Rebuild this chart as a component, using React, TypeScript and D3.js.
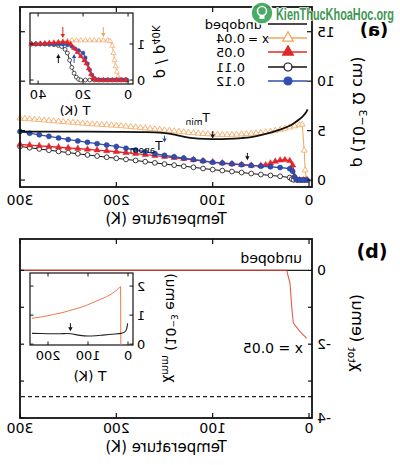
import React from 'react';
import * as d3 from 'd3';

const FONT = 'DejaVu Sans, Verdana, sans-serif';

// ---------- Panel (a): resistivity rho (10^-3 ohm cm) vs T (K) ----------
const tUndoped = [300, 250, 200, 170, 155, 145, 135, 125, 115, 100, 85, 70, 60, 50, 40, 30, 20, 15, 10, 6, 3, 1.5];
const rhoUndoped = [4.9, 4.9, 4.88, 4.85, 4.8, 4.7, 4.5, 4.3, 4.2, 4.15, 4.17, 4.25, 4.35, 4.55, 4.8, 5.1, 5.5, 5.8, 6.15, 6.5, 6.85, 7.15];

const tX004 = [300, 295, 290, 285, 280, 275, 270, 265, 260, 255, 250, 245, 240, 235, 230, 225, 220, 215, 210, 205,
  200, 195, 190, 185, 180, 175, 170, 165, 160, 155, 150, 145, 140, 135, 130, 125, 120, 115, 110, 105,
  100, 95, 90, 85, 80, 75, 70, 65, 60, 55, 50, 45, 40, 35, 30, 25, 20, 15, 10, 7, 5, 4, 3, 2];
const rhoX004 = [6.25, 6.21, 6.17, 6.13, 6.09, 6.05, 6.01, 5.97, 5.93, 5.89, 5.85, 5.81, 5.77, 5.73, 5.69, 5.66, 5.63, 5.6, 5.57, 5.54,
  5.51, 5.47, 5.43, 5.39, 5.35, 5.3, 5.25, 5.2, 5.15, 5.1, 5.05, 5.0, 4.95, 4.9, 4.85, 4.8, 4.76, 4.72, 4.68, 4.65,
  4.62, 4.6, 4.59, 4.59, 4.6, 4.62, 4.64, 4.67, 4.7, 4.74, 4.79, 4.85, 4.92, 5.0, 5.1, 5.22, 5.34, 5.46, 5.56, 5.62, 3.0, 1.0, 0.1, 0];

const tX005 = [300, 290, 280, 270, 260, 250, 240, 230, 220, 210, 200, 190, 180, 170, 160, 150, 140, 130, 120, 110,
  100, 90, 80, 70, 60, 50, 45, 40, 35, 30, 25, 20, 17, 15, 13, 10, 6, 2];
const rhoX005 = [3.6, 3.53, 3.46, 3.39, 3.32, 3.25, 3.18, 3.11, 3.03, 2.95, 2.87, 2.77, 2.67, 2.57, 2.47, 2.37, 2.26, 2.15, 2.04, 1.93,
  1.82, 1.72, 1.63, 1.55, 1.48, 1.45, 1.52, 1.7, 1.88, 2.0, 2.05, 1.95, 1.5, 0.4, 0.05, 0, 0, 0];

const tX011 = [300, 290, 280, 270, 260, 250, 240, 230, 220, 210, 200, 190, 180, 170, 160, 150, 140, 130, 120, 110,
  100, 90, 80, 70, 60, 50, 40, 30, 20, 18, 16, 12, 8, 4];
const rhoX011 = [3.4, 3.27, 3.15, 3.02, 2.9, 2.78, 2.66, 2.54, 2.43, 2.31, 2.2, 2.09, 1.98, 1.86, 1.74, 1.62, 1.51, 1.4, 1.29, 1.17,
  1.06, 0.96, 0.86, 0.76, 0.66, 0.56, 0.47, 0.38, 0.26, 0.1, 0.02, 0, 0, 0];

const tX012 = [300, 290, 280, 270, 260, 250, 240, 230, 220, 210, 200, 190, 180, 170, 160, 150, 140, 130, 120, 110,
  100, 90, 80, 70, 60, 50, 40, 30, 20, 17, 15, 13, 10, 6, 2];
const rhoX012 = [4.9, 4.74, 4.58, 4.42, 4.26, 4.1, 3.96, 3.82, 3.68, 3.54, 3.4, 3.22, 3.04, 2.86, 2.68, 2.5, 2.36, 2.22, 2.08, 1.94,
  1.8, 1.72, 1.64, 1.56, 1.48, 1.41, 1.34, 1.27, 1.15, 0.9, 0.3, 0.05, 0, 0, 0];

// ---------- Inset (a): rho / rho40K vs T ----------
const tInA004 = [43, 41, 39, 37, 35, 33, 31, 29, 27, 25, 23, 21, 19, 17, 15, 13, 11, 9, 8, 7, 6.5, 6, 5.5, 5, 4.5, 4, 3.5, 2.5, 1.5, 0.5];
const nInA004 = [1.0, 1.0, 1.0, 1.0, 1.01, 1.02, 1.04, 1.06, 1.08, 1.1, 1.1, 1.1, 1.1, 1.1, 1.1, 1.1, 1.1, 1.1, 1.08, 0.95, 0.75, 0.55, 0.38, 0.23, 0.1, 0.03, 0, 0, 0, 0];
const tInA005 = [43, 41, 39, 37, 35, 33, 31, 29, 27, 25.5, 24, 22.5, 21, 19.5, 18.5, 17.5, 16.5, 15.5, 14.5, 13, 11, 9, 7, 5, 3, 1];
const nInA005 = [1.0, 1.0, 1.01, 1.02, 1.03, 1.04, 1.05, 1.06, 1.05, 1.0, 0.88, 0.77, 0.66, 0.54, 0.46, 0.32, 0.16, 0.06, 0.01, 0, 0, 0, 0, 0, 0, 0];
const tInA011 = [43, 41, 39, 37, 35, 33, 31, 29.5, 28, 27, 26, 25, 24, 23, 22, 21, 19, 17, 15, 13, 11, 9, 7, 5, 3, 1];
const nInA011 = [1.0, 1.0, 1.0, 1.0, 0.99, 0.98, 0.96, 0.93, 0.85, 0.75, 0.55, 0.35, 0.19, 0.08, 0.02, 0, 0, 0, 0, 0, 0, 0, 0, 0, 0, 0];
const tInA012 = [43, 41, 39, 37, 35, 33, 31, 29, 27, 25, 23.5, 22, 20, 19, 18, 17, 16, 15, 14, 12, 10, 8, 6, 4, 2, 0.5];
const nInA012 = [1.0, 0.99, 1.0, 1.0, 1.0, 1.0, 1.0, 0.99, 0.97, 0.93, 0.87, 0.82, 0.75, 0.62, 0.45, 0.28, 0.14, 0.05, 0.01, 0, 0, 0, 0, 0, 0, 0];

// ---------- Panel (b): chi_tot (emu) vs T ----------
const tChiUndoped = [300, 0];
const chiUndoped = [0, 0];
const tChiX005 = [300, 23.2, 19.7, 18.0, 16.3, 9.3, 2.4];
const chiX005 = [0, 0, -0.35, -0.98, -1.43, -1.66, -1.84];
const chiDashed = -3.42;

// ---------- Inset (b): chi_mm (10^-3 emu) vs T ----------
const tInBX005 = [240, 220, 200, 186, 160, 140, 120, 103, 80, 54, 40, 30, 21, 18.5, 18];
const chiInBX005 = [0.89, 0.93, 0.98, 1.02, 1.1, 1.18, 1.26, 1.34, 1.48, 1.63, 1.74, 1.84, 1.96, 1.98, -0.03];
const tInBUndoped = [240, 200, 170, 144, 120, 100, 80, 63, 40, 17, 8, 4, 2, 1];
const chiInBUndoped = [0.37, 0.36, 0.36, 0.36, 0.3, 0.28, 0.29, 0.31, 0.34, 0.37, 0.42, 0.5, 0.62, 0.72];

// ticks
const tempTicks = [0, 100, 200, 300];
const rhoTicks = [0, 5, 10, 15];
const chiTicksMajor = [0, -2, -4];
const chiTicksAll = [0, -1, -2, -3, -4];
const insetATicksX = [0, 20, 40];
const insetATicksY = [0, 1];
const insetBTicksX = [0, 100, 200];
const insetBTicksY = [0, 1, 2];

const legendLabels = ['undoped', '0.04', '0.05', '0.11', '0.12'];

const C_OR = '#f2a45c';
const C_RED = '#e2262b';
const C_BLK = '#111111';
const C_BLUE = '#2f4fae';
const C_OR_B = '#ee7a4a';
const C_RED_B = '#d9412e';

type Sc = d3.ScaleLinear<number, number>;

function pts(t: number[], v: number[]): [number, number][] {
  return t.map((d, i) => [d, v[i]]);
}

function linePath(xs: Sc, ys: Sc, t: number[], v: number[], curve?: any) {
  const l = d3.line<[number, number]>().x(d => xs(d[0])).y(d => ys(d[1]));
  if (curve) l.curve(curve);
  return l(pts(t, v)) || '';
}

function Markers({ xs, ys, t, v, d, fill, stroke, sw = 0.8 }: any) {
  return (
    <g>
      {t.map((tt: number, i: number) => (
        <path key={i} d={d} transform={`translate(${xs(tt)},${ys(v[i])})`} fill={fill} stroke={stroke} strokeWidth={sw} />
      ))}
    </g>
  );
}

function Arrow({ x, y1, y2, color, w = 1 }: any) {
  const dir = y2 > y1 ? 1 : -1;
  return (
    <g>
      <line x1={x} x2={x} y1={y1} y2={y2 - dir * 2} stroke={color} strokeWidth={w} />
      <polygon points={`${x - 2.2},${y2 - dir * 4} ${x + 2.2},${y2 - dir * 4} ${x},${y2}`} fill={color} />
    </g>
  );
}

export default function App() {
  const xA = d3.scaleLinear().domain([-3.1, 300]).range([88, 380]);
  const yA = d3.scaleLinear().domain([-0.7, 17.5]).range([187, 7]);
  const xB = xA;
  const yB = d3.scaleLinear().domain([-4.0, 0.85]).range([418, 239]);
  const xIA = d3.scaleLinear().domain([-2.2, 43.6]).range([267, 370]);
  const yIA = d3.scaleLinear().domain([-0.11, 1.86]).range([84, 13]);
  const xIB = d3.scaleLinear().domain([-12.5, 245]).range([267, 370]);
  const yIB = d3.scaleLinear().domain([-0.03, 2.45]).range([345, 273]);

  const triS = d3.symbol().type(d3.symbolTriangle).size(15)() || '';
  const triM = d3.symbol().type(d3.symbolTriangle).size(17)() || '';
  const cirS = d3.symbol().type(d3.symbolCircle).size(18)() || '';
  const cirM = d3.symbol().type(d3.symbolCircle).size(20)() || '';
  const triI = d3.symbol().type(d3.symbolTriangle).size(11)() || '';
  const cirI = d3.symbol().type(d3.symbolCircle).size(12)() || '';
  const triL = d3.symbol().type(d3.symbolTriangle).size(50)() || '';
  const cirL = d3.symbol().type(d3.symbolCircle).size(50)() || '';

  const [aL, aR] = xA.range();
  const [aB, aT] = yA.range();
  const [bB, bT] = yB.range();
  const [iaL, iaR] = xIA.range();
  const [iaB, iaT] = yIA.range();
  const [ibL, ibR] = xIB.range();
  const [ibB, ibT] = yIB.range();

  const legendY = [24, 38, 52, 67, 81];
  const legendStyles = [
    { stroke: C_BLK, d: null, fill: 'none' },
    { stroke: C_OR, d: triL, fill: '#fff' },
    { stroke: C_RED, d: triL, fill: C_RED },
    { stroke: C_BLK, d: cirL, fill: '#fff' },
    { stroke: C_BLUE, d: cirL, fill: C_BLUE },
  ];

  return (
    <svg width={400} height={465} style={{ position: 'absolute', left: 0, top: 0, background: '#fff' }} fontFamily={FONT}>
      <rect x={0} y={0} width={400} height={465} fill="#fff" />
      <g transform="translate(400,0) scale(-1,1)">
        {/* ===== Panel (a) ===== */}
        <path d={linePath(xA, yA, tX004, rhoX004)} fill="none" stroke={C_OR} strokeWidth={1} />
        <Markers xs={xA} ys={yA} t={tX004} v={rhoX004} d={triS} fill="#fff" stroke={C_OR} sw={0.8} />
        <path d={linePath(xA, yA, tX011, rhoX011)} fill="none" stroke={C_BLK} strokeWidth={1} />
        <Markers xs={xA} ys={yA} t={tX011} v={rhoX011} d={cirS} fill="#fff" stroke={C_BLK} sw={0.8} />
        <path d={linePath(xA, yA, tX005, rhoX005)} fill="none" stroke={C_RED} strokeWidth={1.4} />
        <Markers xs={xA} ys={yA} t={tX005} v={rhoX005} d={triM} fill={C_RED} stroke={C_RED} sw={0.5} />
        <path d={linePath(xA, yA, tX012, rhoX012)} fill="none" stroke={C_BLUE} strokeWidth={1.3} />
        <Markers xs={xA} ys={yA} t={tX012} v={rhoX012} d={cirM} fill={C_BLUE} stroke="#22398a" sw={0.5} />
        <path d={linePath(xA, yA, tUndoped, rhoUndoped, d3.curveCatmullRom)} fill="none" stroke={C_BLK} strokeWidth={1.8} />

        {/* arrows & labels */}
        <Arrow x={xA(100)} y1={yA(4.95)} y2={yA(4.2)} color={C_BLK} />
        <text x={xA(103)} y={122} fontSize={12}>T<tspan fontSize={9} dy={3}>min</tspan></text>
        <Arrow x={xA(150)} y1={yA(4.5)} y2={yA(3.8)} color={C_BLUE} />
        <text x={xA(152)} y={150} fontSize={12}>T<tspan fontSize={9} dy={3}>anom</tspan></text>
        <Arrow x={xA(64)} y1={yA(2.75)} y2={yA(2.0)} color={C_BLK} />

        {/* frame (a) */}
        <rect x={aL} y={aT} width={aR - aL} height={aB - aT} fill="none" stroke="#111" strokeWidth={1.8} />
        {tempTicks.map(t => (
          <g key={'xa' + t}>
            <line x1={xA(t)} x2={xA(t)} y1={aB} y2={aB - 5} stroke="#111" strokeWidth={1.2} />
            <line x1={xA(t)} x2={xA(t)} y1={aT} y2={aT + 5} stroke="#111" strokeWidth={1.2} />
            <text x={xA(t)} y={205} fontSize={14} textAnchor="middle">{t}</text>
          </g>
        ))}
        {rhoTicks.map(v => (
          <g key={'ya' + v}>
            <line x1={aL} x2={aL + 5} y1={yA(v)} y2={yA(v)} stroke="#111" strokeWidth={1.2} />
            <line x1={aR} x2={aR - 5} y1={yA(v)} y2={yA(v)} stroke="#111" strokeWidth={1.2} />
            <text x={aL - 5} y={yA(v) + 5} fontSize={14} textAnchor="end">{v}</text>
          </g>
        ))}
        <text x={(aL + aR) / 2} y={224} fontSize={15} textAnchor="middle">Temperature (K)</text>
        <text transform="translate(47,112) rotate(-90)" fontSize={16} textAnchor="middle">
          ρ (10<tspan fontSize={11} dy={-6}>−3</tspan><tspan dy={6}> Ω cm)</tspan>
        </text>
        <text x={26} y={36} fontSize={18} fontWeight="bold" textAnchor="middle">(a)</text>

        {/* legend */}
        {legendLabels.map((lab, i) => {
          const st = legendStyles[i];
          const y = legendY[i];
          return (
            <g key={'lg' + i}>
              <line x1={93} x2={132} y1={y} y2={y} stroke={st.stroke} strokeWidth={1.5} />
              {st.d && <path d={st.d} transform={`translate(112,${y})`} fill={st.fill} stroke={st.stroke} strokeWidth={1.2} />}
              {i === 0 && <text x={138} y={y + 4.5} fontSize={13}>{lab}</text>}
              {i === 1 && <text x={152} y={y + 4.5} fontSize={12} textAnchor="end">x =</text>}
              {i > 0 && <text x={155} y={y + 4.5} fontSize={13}>{lab}</text>}
            </g>
          );
        })}

        {/* inset (a) */}
        <rect x={iaL} y={iaT} width={iaR - iaL} height={iaB - iaT} fill="#fff" stroke="#111" strokeWidth={1.2} />
        <path d={linePath(xIA, yIA, tInA004, nInA004)} fill="none" stroke={C_OR} strokeWidth={0.9} />
        <Markers xs={xIA} ys={yIA} t={tInA004} v={nInA004} d={triI} fill="#fff" stroke={C_OR} sw={0.7} />
        <path d={linePath(xIA, yIA, tInA011, nInA011)} fill="none" stroke={C_BLK} strokeWidth={0.9} />
        <Markers xs={xIA} ys={yIA} t={tInA011} v={nInA011} d={cirI} fill="#fff" stroke={C_BLK} sw={0.7} />
        <path d={linePath(xIA, yIA, tInA012, nInA012)} fill="none" stroke={C_BLUE} strokeWidth={1.1} />
        <Markers xs={xIA} ys={yIA} t={tInA012} v={nInA012} d={cirI} fill={C_BLUE} stroke={C_BLUE} sw={0.4} />
        <path d={linePath(xIA, yIA, tInA005, nInA005)} fill="none" stroke={C_RED} strokeWidth={1.2} />
        <Markers xs={xIA} ys={yIA} t={tInA005} v={nInA005} d={triI} fill={C_RED} stroke={C_RED} sw={0.4} />
        <Arrow x={xIA(11)} y1={27} y2={37} color={C_OR} />
        <Arrow x={xIA(29)} y1={27} y2={38} color={C_RED} />
        <Arrow x={xIA(31)} y1={63} y2={54} color={C_BLK} />
        <Arrow x={xIA(24)} y1={63} y2={54} color={C_BLUE} />
        {insetATicksX.map(t => (
          <g key={'xia' + t}>
            <line x1={xIA(t)} x2={xIA(t)} y1={iaB} y2={iaB - 3.5} stroke="#111" />
            <line x1={xIA(t)} x2={xIA(t)} y1={iaT} y2={iaT + 3.5} stroke="#111" />
            <text x={xIA(t)} y={98.5} fontSize={13} textAnchor="middle">{t}</text>
          </g>
        ))}
        {insetATicksY.map(v => (
          <g key={'yia' + v}>
            <line x1={iaL} x2={iaL + 3.5} y1={yIA(v)} y2={yIA(v)} stroke="#111" />
            <line x1={iaR} x2={iaR - 3.5} y1={yIA(v)} y2={yIA(v)} stroke="#111" />
            <text x={iaL - 4} y={yIA(v) + 5} fontSize={13} textAnchor="end">{v}</text>
          </g>
        ))}
        <text x={325} y={115} fontSize={13} textAnchor="middle">T (K)</text>
        <text transform="translate(244,52) rotate(-90)" fontSize={15} textAnchor="middle">
          ρ / ρ<tspan fontSize={10} dy={4}>40K</tspan>
        </text>

        {/* ===== Panel (b) ===== */}
        <line x1={aL} x2={aR} y1={yB(chiDashed)} y2={yB(chiDashed)} stroke="#222" strokeWidth={1.2} strokeDasharray="4,3" />
        <path d={linePath(xB, yB, tChiUndoped, chiUndoped)} fill="none" stroke="#222" strokeWidth={1.2} />
        <path d={linePath(xB, yB, tChiX005, chiX005)} fill="none" stroke={C_RED_B} strokeWidth={1.1} strokeOpacity={0.85} />
        <text x={98} y={263} fontSize={14}>undoped</text>
        <text x={97} y={353} fontSize={14}>x = 0.05</text>

        <rect x={aL} y={bT} width={aR - aL} height={bB - bT} fill="none" stroke="#111" strokeWidth={1.8} />
        {tempTicks.map(t => (
          <g key={'xb' + t}>
            <line x1={xB(t)} x2={xB(t)} y1={bB} y2={bB - 5} stroke="#111" strokeWidth={1.2} />
            <line x1={xB(t)} x2={xB(t)} y1={bT} y2={bT + 5} stroke="#111" strokeWidth={1.2} />
            <text x={xB(t)} y={433} fontSize={14} textAnchor="middle">{t}</text>
          </g>
        ))}
        {chiTicksAll.map(v => (
          <g key={'yb' + v}>
            <line x1={aL} x2={aL + 4} y1={yB(v)} y2={yB(v)} stroke="#111" strokeWidth={1.2} />
            <line x1={aR} x2={aR - 4} y1={yB(v)} y2={yB(v)} stroke="#111" strokeWidth={1.2} />
          </g>
        ))}
        {chiTicksMajor.map(v => (
          <text key={'ybl' + v} x={aL - 5} y={yB(v) + 5} fontSize={14} textAnchor="end">{v === 0 ? '0' : String(v)}</text>
        ))}
        <text x={(aL + aR) / 2} y={452} fontSize={15} textAnchor="middle">Temperature (K)</text>
        <text transform="translate(48,333) rotate(-90)" fontSize={16} textAnchor="middle">
          χ<tspan fontSize={11} dy={4}>tot</tspan><tspan dy={-4}> (emu)</tspan>
        </text>
        <text x={28} y={258} fontSize={19} fontWeight="bold" textAnchor="middle">(b)</text>

        {/* inset (b) */}
        <rect x={ibL} y={ibT} width={ibR - ibL} height={ibB - ibT} fill="#fff" stroke="#111" strokeWidth={1.2} />
        <path d={linePath(xIB, yIB, tInBX005, chiInBX005)} fill="none" stroke={C_OR_B} strokeWidth={1} />
        <path d={linePath(xIB, yIB, tInBUndoped, chiInBUndoped, d3.curveCatmullRom)} fill="none" stroke="#222" strokeWidth={1.1} />
        <Arrow x={xIB(144)} y1={yIB(0.72)} y2={yIB(0.44)} color={C_BLK} />
        {insetBTicksX.map(t => (
          <g key={'xib' + t}>
            <line x1={xIB(t)} x2={xIB(t)} y1={ibB} y2={ibB - 3.5} stroke="#111" />
            <line x1={xIB(t)} x2={xIB(t)} y1={ibT} y2={ibT + 3.5} stroke="#111" />
            <text x={xIB(t)} y={360} fontSize={13} textAnchor="middle">{t}</text>
          </g>
        ))}
        {insetBTicksY.map(v => (
          <g key={'yib' + v}>
            <line x1={ibL} x2={ibL + 3.5} y1={yIB(v)} y2={yIB(v)} stroke="#111" />
            <line x1={ibR} x2={ibR - 3.5} y1={yIB(v)} y2={yIB(v)} stroke="#111" />
            <text x={ibL - 4} y={yIB(v) + 5} fontSize={13} textAnchor="end">{v}</text>
          </g>
        ))}
        <text x={310} y={381} fontSize={14} textAnchor="middle">T (K)</text>
        <text transform="translate(234,328) rotate(-90)" fontSize={14} textAnchor="middle">
          χ<tspan fontSize={10} dy={4}>mm</tspan><tspan dy={-4}> (10</tspan><tspan fontSize={9} dy={-5}>−3</tspan><tspan dy={5}> emu)</tspan>
        </text>
      </g>

      {/* watermark (not mirrored) */}
      <g opacity={0.92}>
        <circle cx={262} cy={13} r={11} fill="#3aa65a" stroke="#fff" strokeWidth={1.5} />
        <circle cx={262} cy={11} r={4.5} fill="none" stroke="#fff" strokeWidth={1.6} />
        <rect x={259.5} y={15} width={5} height={4} fill="#fff" />
        <text x={276} y={20} fontSize={17} fontWeight="bold" fontFamily="Liberation Sans Narrow, Liberation Sans, sans-serif"
          fill="#2e8f45" stroke="#fff" strokeWidth={1.5} paintOrder="stroke" textLength={118} lengthAdjust="spacingAndGlyphs">
          KienThucKhoaHoc.org
        </text>
      </g>
    </svg>
  );
}
